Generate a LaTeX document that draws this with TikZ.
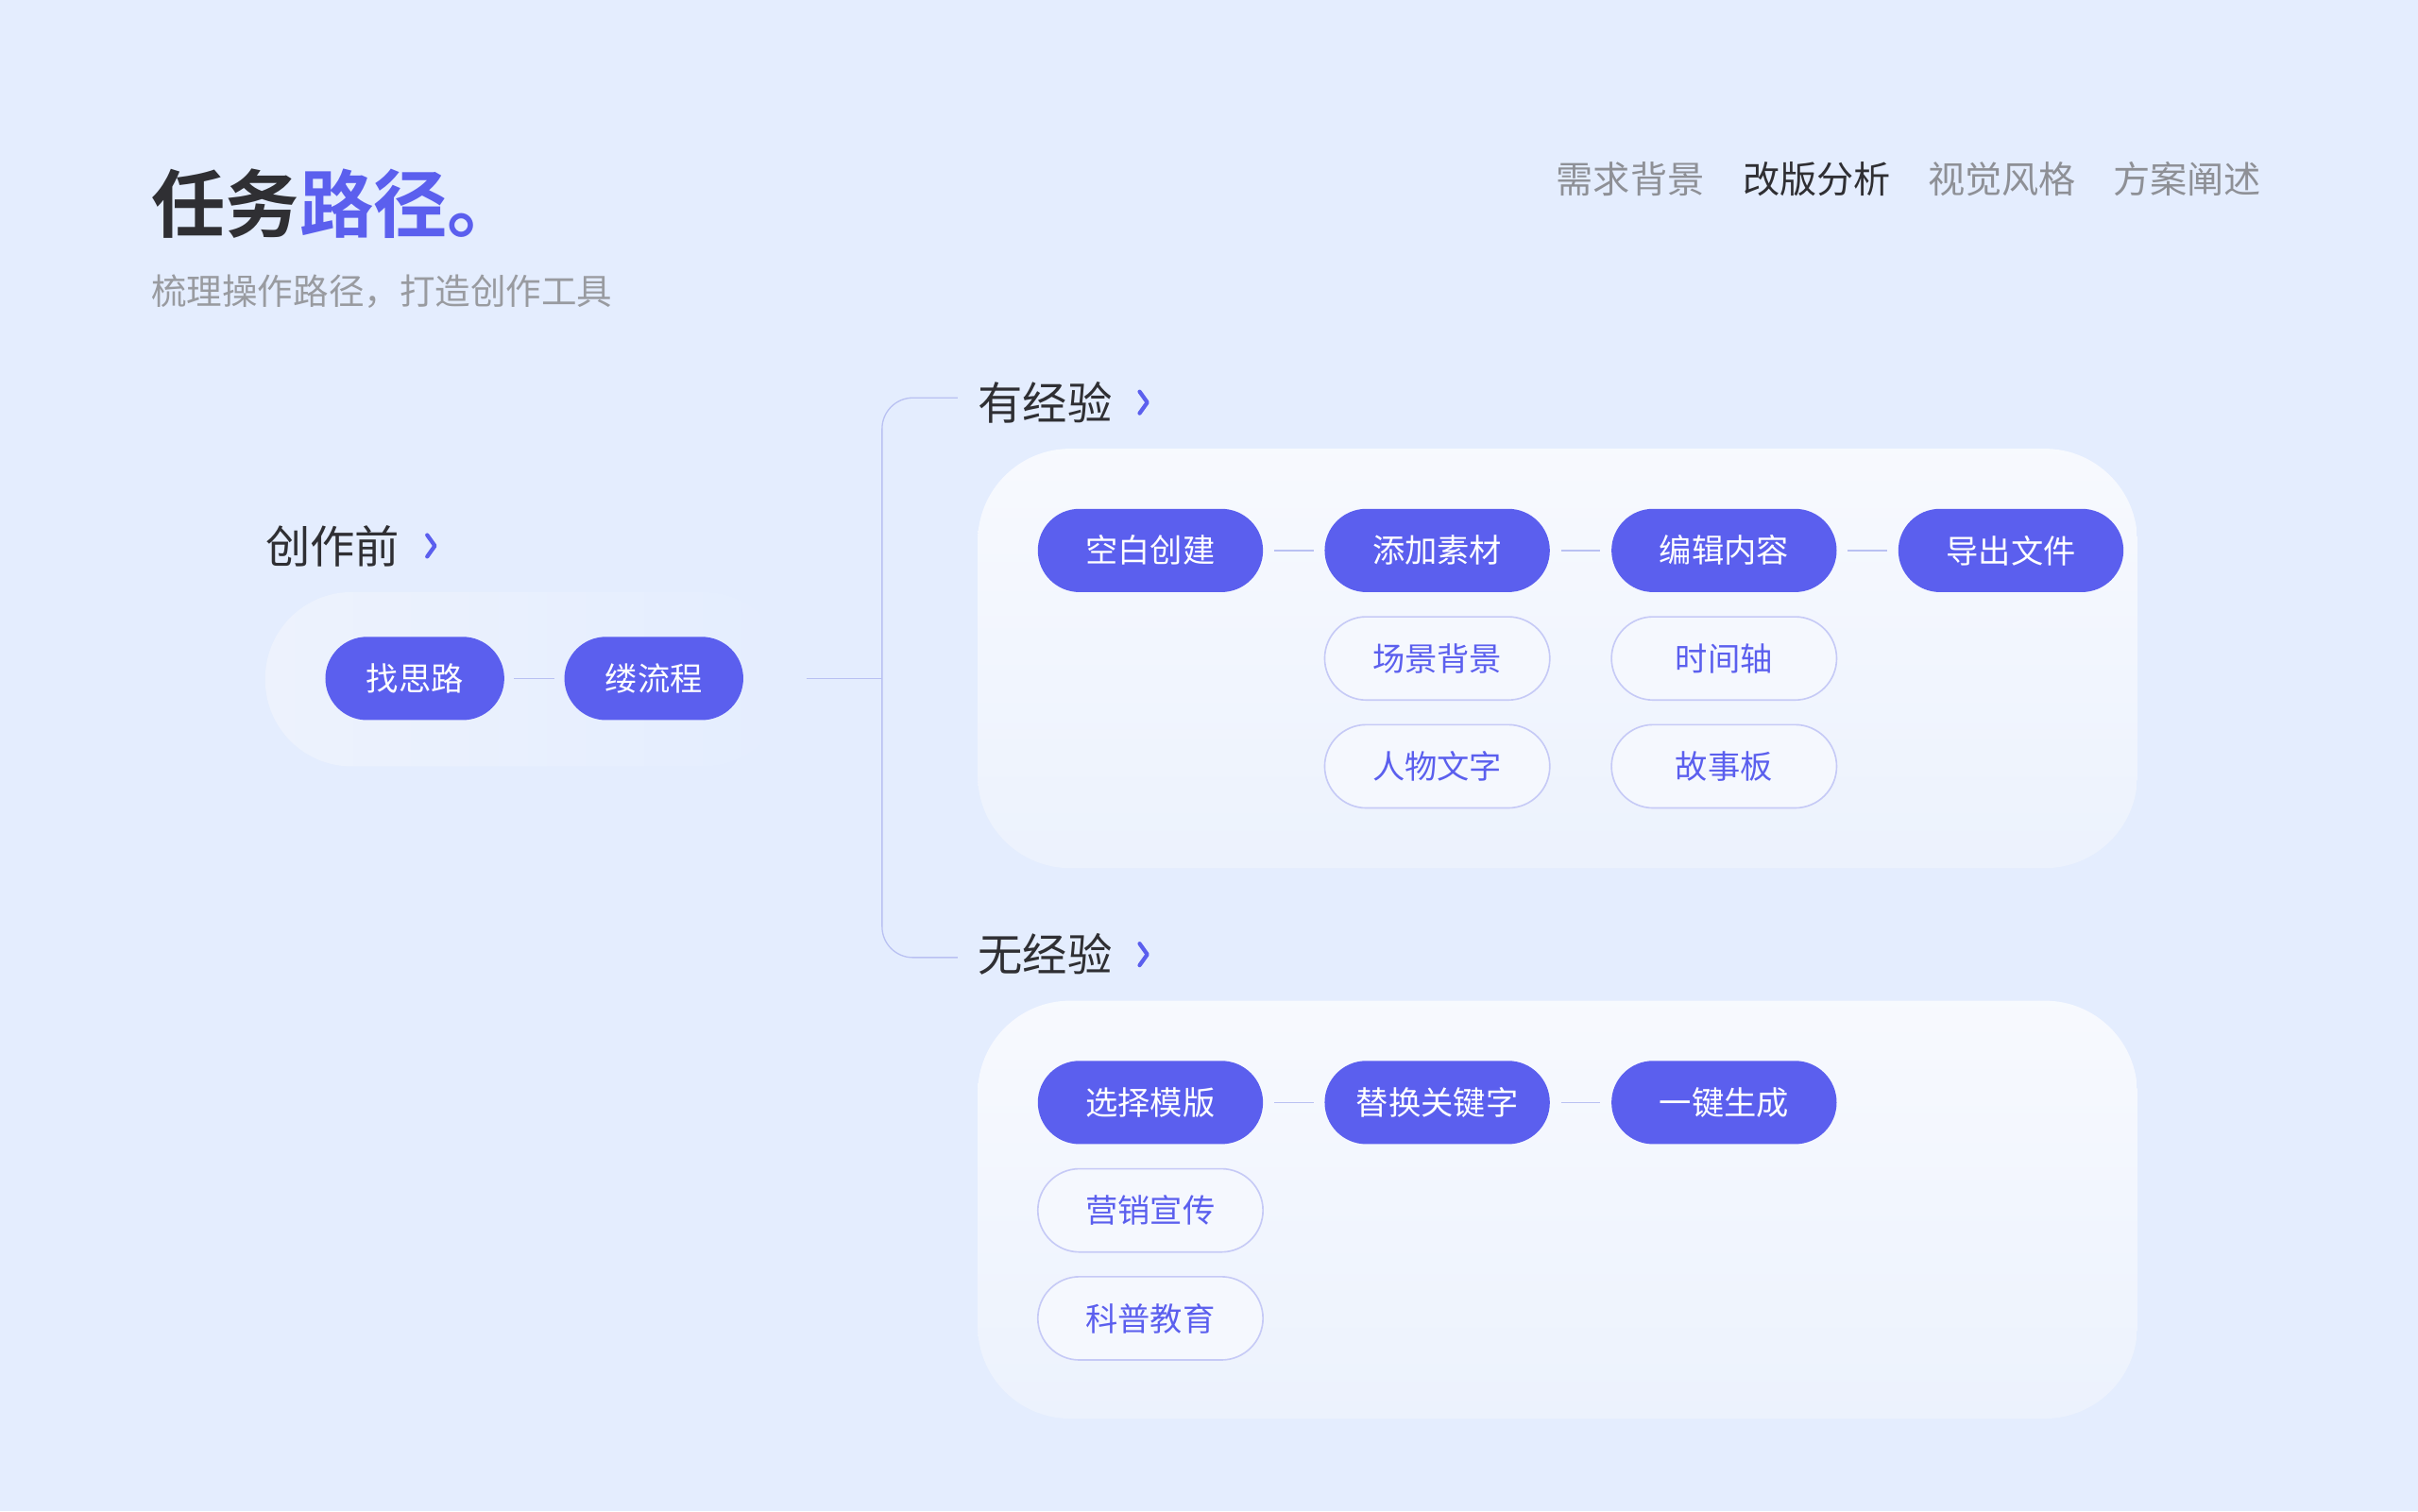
\documentclass[tikz,border=0pt]{standalone}
\usepackage{fontspec}
\setmainfont{Noto Sans CJK SC}
\newfontfamily\cjkbold{Noto Sans CJK SC Bold}
\definecolor{bg}{HTML}{E4EDFE}
\definecolor{panel}{HTML}{EEF3FD}
\definecolor{blu}{HTML}{5B5FEE}
\definecolor{obord}{HTML}{C6CAF6}
\definecolor{dark}{HTML}{2F2F33}
\definecolor{gry}{HTML}{8E9096}
\definecolor{lin}{HTML}{B9C1F2}
\begin{document}
\begin{tikzpicture}[x=1pt,y=-1pt,
 fillbtn/.style={rounded corners=27pt,fill=blu,text=white,minimum width=146pt,minimum height=54pt,font=\fontsize{21}{21}\selectfont,inner sep=0pt},
 smallbtn/.style={fillbtn,minimum width=116pt},
 outbtn/.style={rounded corners=27pt,draw=obord,line width=1pt,fill=panel!60!white,text=blu,minimum width=146pt,minimum height=54pt,font=\fontsize{21}{21}\selectfont,inner sep=0pt},
 conn/.style={draw=lin,line width=0.8pt},
 head/.style={anchor=west,text=dark,font=\fontsize{29}{29}\selectfont,inner sep=0pt},
 chev/.style={draw=blu,line width=2.6pt,line cap=round,line join=round},
 nav/.style={anchor=west,text=gry,font=\fontsize{24}{24}\selectfont,inner sep=0pt}]
\fill[bg] (0,0) rectangle (1568,980);
\useasboundingbox (0,0) rectangle (1568,980);
% title
\node[anchor=west,inner sep=0pt,font=\cjkbold\fontsize{48}{48}\selectfont] (title) at (98,132) {\textcolor{dark}{任务}\textcolor{blu}{路径。}};
\node[anchor=west,inner sep=0pt,text=gry!90,font=\fontsize{23}{23}\selectfont] (sub) at (98,189) {梳理操作路径，打造创作工具};
\node[nav] (n1) at (1009,116) {需求背景};
\node[nav,text=dark] (n2) at (1130,116) {改版分析};
\node[nav] (n3) at (1250,116) {视觉风格};
\node[nav] (n4) at (1370,116) {方案阐述};
% panels
\shade[rounded corners=56pt,left color=panel!90!bg,right color=bg] (172,384) rectangle (512,497);
\shade[rounded corners=60pt,top color=white!55!panel,bottom color=panel!80!bg] (634,291) rectangle (1386,563);
\shade[rounded corners=60pt,top color=white!55!panel,bottom color=panel!80!bg] (634,649) rectangle (1386,920);
% headings
\node[head] (h0) at (172,354) {创作前};
\draw[chev] (277,347)--(282,354)--(277,361);
\node[head] (h1) at (634,261) {有经验};
\draw[chev] (739,254)--(744,261)--(739,268);
\node[head] (h2) at (634,619) {无经验};
\draw[chev] (739,612)--(744,619)--(739,626);
% left buttons
\node[smallbtn] (a1) at (269,440) {找思路};
\node[smallbtn] (a2) at (424,440) {缕流程};
\draw[conn] (a1.east)++(6,0) -- ([xshift=-6pt]a2.west);
% tree lines
\coordinate (t0) at (523,440);
\coordinate (tj) at (572,440);
\coordinate (t1) at (621,258);
\coordinate (t2) at (621,621);
\draw[conn] (t0)--(tj);
\draw[conn,rounded corners=20pt] (t1) -| (tj) |- (t2);
% top panel
\node[fillbtn] (b1) at (746,357) {空白创建};
\node[fillbtn] (b2) at (932,357) {添加素材};
\node[fillbtn] (b3) at (1118,357) {编辑内容};
\node[fillbtn] (b4) at (1304,357) {导出文件};
\node[outbtn] (c1) at (932,427) {场景背景};
\node[outbtn] (c2) at (1118,427) {时间轴};
\node[outbtn] (c3) at (932,497) {人物文字};
\node[outbtn] (c4) at (1118,497) {故事板};
\draw[conn] ([xshift=7pt]b1.east) -- ([xshift=-7pt]b2.west);
\draw[conn] ([xshift=7pt]b2.east) -- ([xshift=-7pt]b3.west);
\draw[conn] ([xshift=7pt]b3.east) -- ([xshift=-7pt]b4.west);
% bottom panel
\node[fillbtn] (d1) at (746,715) {选择模版};
\node[fillbtn] (d2) at (932,715) {替换关键字};
\node[fillbtn] (d3) at (1118,715) {一键生成};
\node[outbtn] (e1) at (746,785) {营销宣传};
\node[outbtn] (e2) at (746,855) {科普教育};
\draw[conn] ([xshift=7pt]d1.east) -- ([xshift=-7pt]d2.west);
\draw[conn] ([xshift=7pt]d2.east) -- ([xshift=-7pt]d3.west);
\end{tikzpicture}
\end{document}
